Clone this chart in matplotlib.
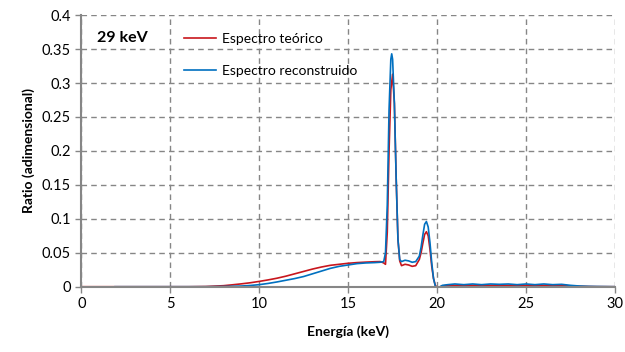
import numpy as np
import matplotlib.pyplot as plt

# energies (keV) and ratios
e_teo = [0, 1.9, 4, 6, 7, 8, 8.5, 9, 9.5, 10, 10.5, 11, 11.5, 12, 12.5, 13, 13.5,
         14, 14.5, 15, 15.5, 16, 16.5, 16.8, 17.0, 17.1, 17.2, 17.3, 17.4, 17.5,
         17.6, 17.7, 17.8, 17.9, 18.0, 18.2, 18.4, 18.6, 18.8, 19.0, 19.1, 19.2,
         19.3, 19.4, 19.5, 19.6, 19.7, 19.8, 19.9, 20.0, 20.1, 20.3, 20.6, 21, 21.5,
         22, 22.5, 23, 23.5, 24, 24.5, 25, 25.5, 26, 26.5, 27, 27.5, 28, 28.5, 29, 30]
r_teo = [0, 0, 0, 0, 0.0003, 0.0015, 0.0028, 0.0042, 0.0058, 0.0078, 0.0100, 0.0125,
         0.0155, 0.0190, 0.0225, 0.0260, 0.0290, 0.0315, 0.0330, 0.0345, 0.0355,
         0.0362, 0.0368, 0.0370, 0.0350, 0.0330, 0.080, 0.200, 0.290, 0.313, 0.270,
         0.160, 0.070, 0.038, 0.031, 0.033, 0.032, 0.030, 0.031, 0.040, 0.050, 0.064,
         0.077, 0.081, 0.075, 0.055, 0.030, 0.012, 0.002, -0.001, -0.001, 0.001,
         0.002, 0.002, 0.0018, 0.002, 0.0018, 0.002, 0.0018, 0.002, 0.0018, 0.002,
         0.0018, 0.002, 0.0018, 0.0018, 0.0012, 0.0006, 0.0003, 0.0001, 0]

e_rec = [1.9, 4, 6, 7, 8, 8.5, 9, 9.5, 10, 10.5, 11, 11.5, 12, 12.5, 13, 13.5, 14,
         14.5, 15, 15.5, 16, 16.5, 16.8, 17.0, 17.1, 17.2, 17.3, 17.4, 17.45, 17.5,
         17.6, 17.7, 17.8, 17.9, 18.0, 18.2, 18.4, 18.6, 18.8, 19.0, 19.1, 19.2,
         19.3, 19.4, 19.5, 19.6, 19.7, 19.8, 19.9, 20.0, 20.1, 20.3, 20.6, 21, 21.5,
         22, 22.5, 23, 23.5, 24, 24.5, 25, 25.5, 26, 26.5, 27, 27.5, 28, 28.5, 29, 30]
r_rec = [0, 0, 0, 0, 0.0003, 0.0006, 0.0010, 0.0018, 0.0030, 0.0048, 0.0070, 0.0095,
         0.0120, 0.0150, 0.0190, 0.0230, 0.0270, 0.0300, 0.0320, 0.0340, 0.0350,
         0.0355, 0.0360, 0.0370, 0.050, 0.120, 0.260, 0.335, 0.343, 0.335, 0.270,
         0.160, 0.070, 0.040, 0.037, 0.039, 0.038, 0.036, 0.037, 0.045, 0.058, 0.076,
         0.092, 0.096, 0.088, 0.065, 0.035, 0.012, 0.001, -0.002, -0.001, 0.002,
         0.003, 0.004, 0.003, 0.004, 0.003, 0.004, 0.0035, 0.004, 0.003, 0.004,
         0.003, 0.004, 0.003, 0.0035, 0.002, 0.001, 0.0005, 0.0003, 0]

xticks = [0, 5, 10, 15, 20, 25, 30]
yticks = [0, 0.05, 0.1, 0.15, 0.2, 0.25, 0.3, 0.35, 0.4]
ylabels = ["0", "0.05", "0.1", "0.15", "0.2", "0.25", "0.3", "0.35", "0.4"]

plt.rcParams['font.family'] = ['Lato', 'DejaVu Sans']

fig = plt.figure(figsize=(6.25, 3.52), dpi=100)
ax = fig.add_axes([0.13, 0.1855, 0.854, 0.7715])

ax.plot(e_teo, r_teo, color='#C8161D', lw=1.2, label='Espectro teórico')
ax.plot(e_rec, r_rec, color='#0070C0', lw=1.2, label='Espectro reconstruido')

ax.set_xlim(0, 30)
ax.set_ylim(0, 0.4)
ax.set_xticks(xticks)
ax.set_yticks(yticks)
ax.set_yticklabels(ylabels)
ax.tick_params(labelsize=10.5, colors='#868686', labelcolor='black', length=4, width=1)

ax.grid(True, linestyle=(0, (4, 3)), color='#868686', lw=1)
for s in ['top', 'right']:
    ax.spines[s].set_visible(False)
for s in ['left', 'bottom']:
    ax.spines[s].set_color('#868686')
    ax.spines[s].set_linewidth(1.5)

ax.set_xlabel('Energía (keV)', fontsize=10, fontweight='bold', labelpad=10)
ax.set_ylabel('Ratio (adimensional)', fontsize=10, fontweight='bold', labelpad=5)

ax.text(0.9, 0.367, '29 keV', fontsize=11.5, fontweight='bold', va='center')
ax.legend(loc='upper left', bbox_to_anchor=(0.17, 0.98), frameon=False, fontsize=10,
          handlelength=2.3, handletextpad=0.4, labelspacing=1.45)

fig.savefig('out.png', dpi=100)
